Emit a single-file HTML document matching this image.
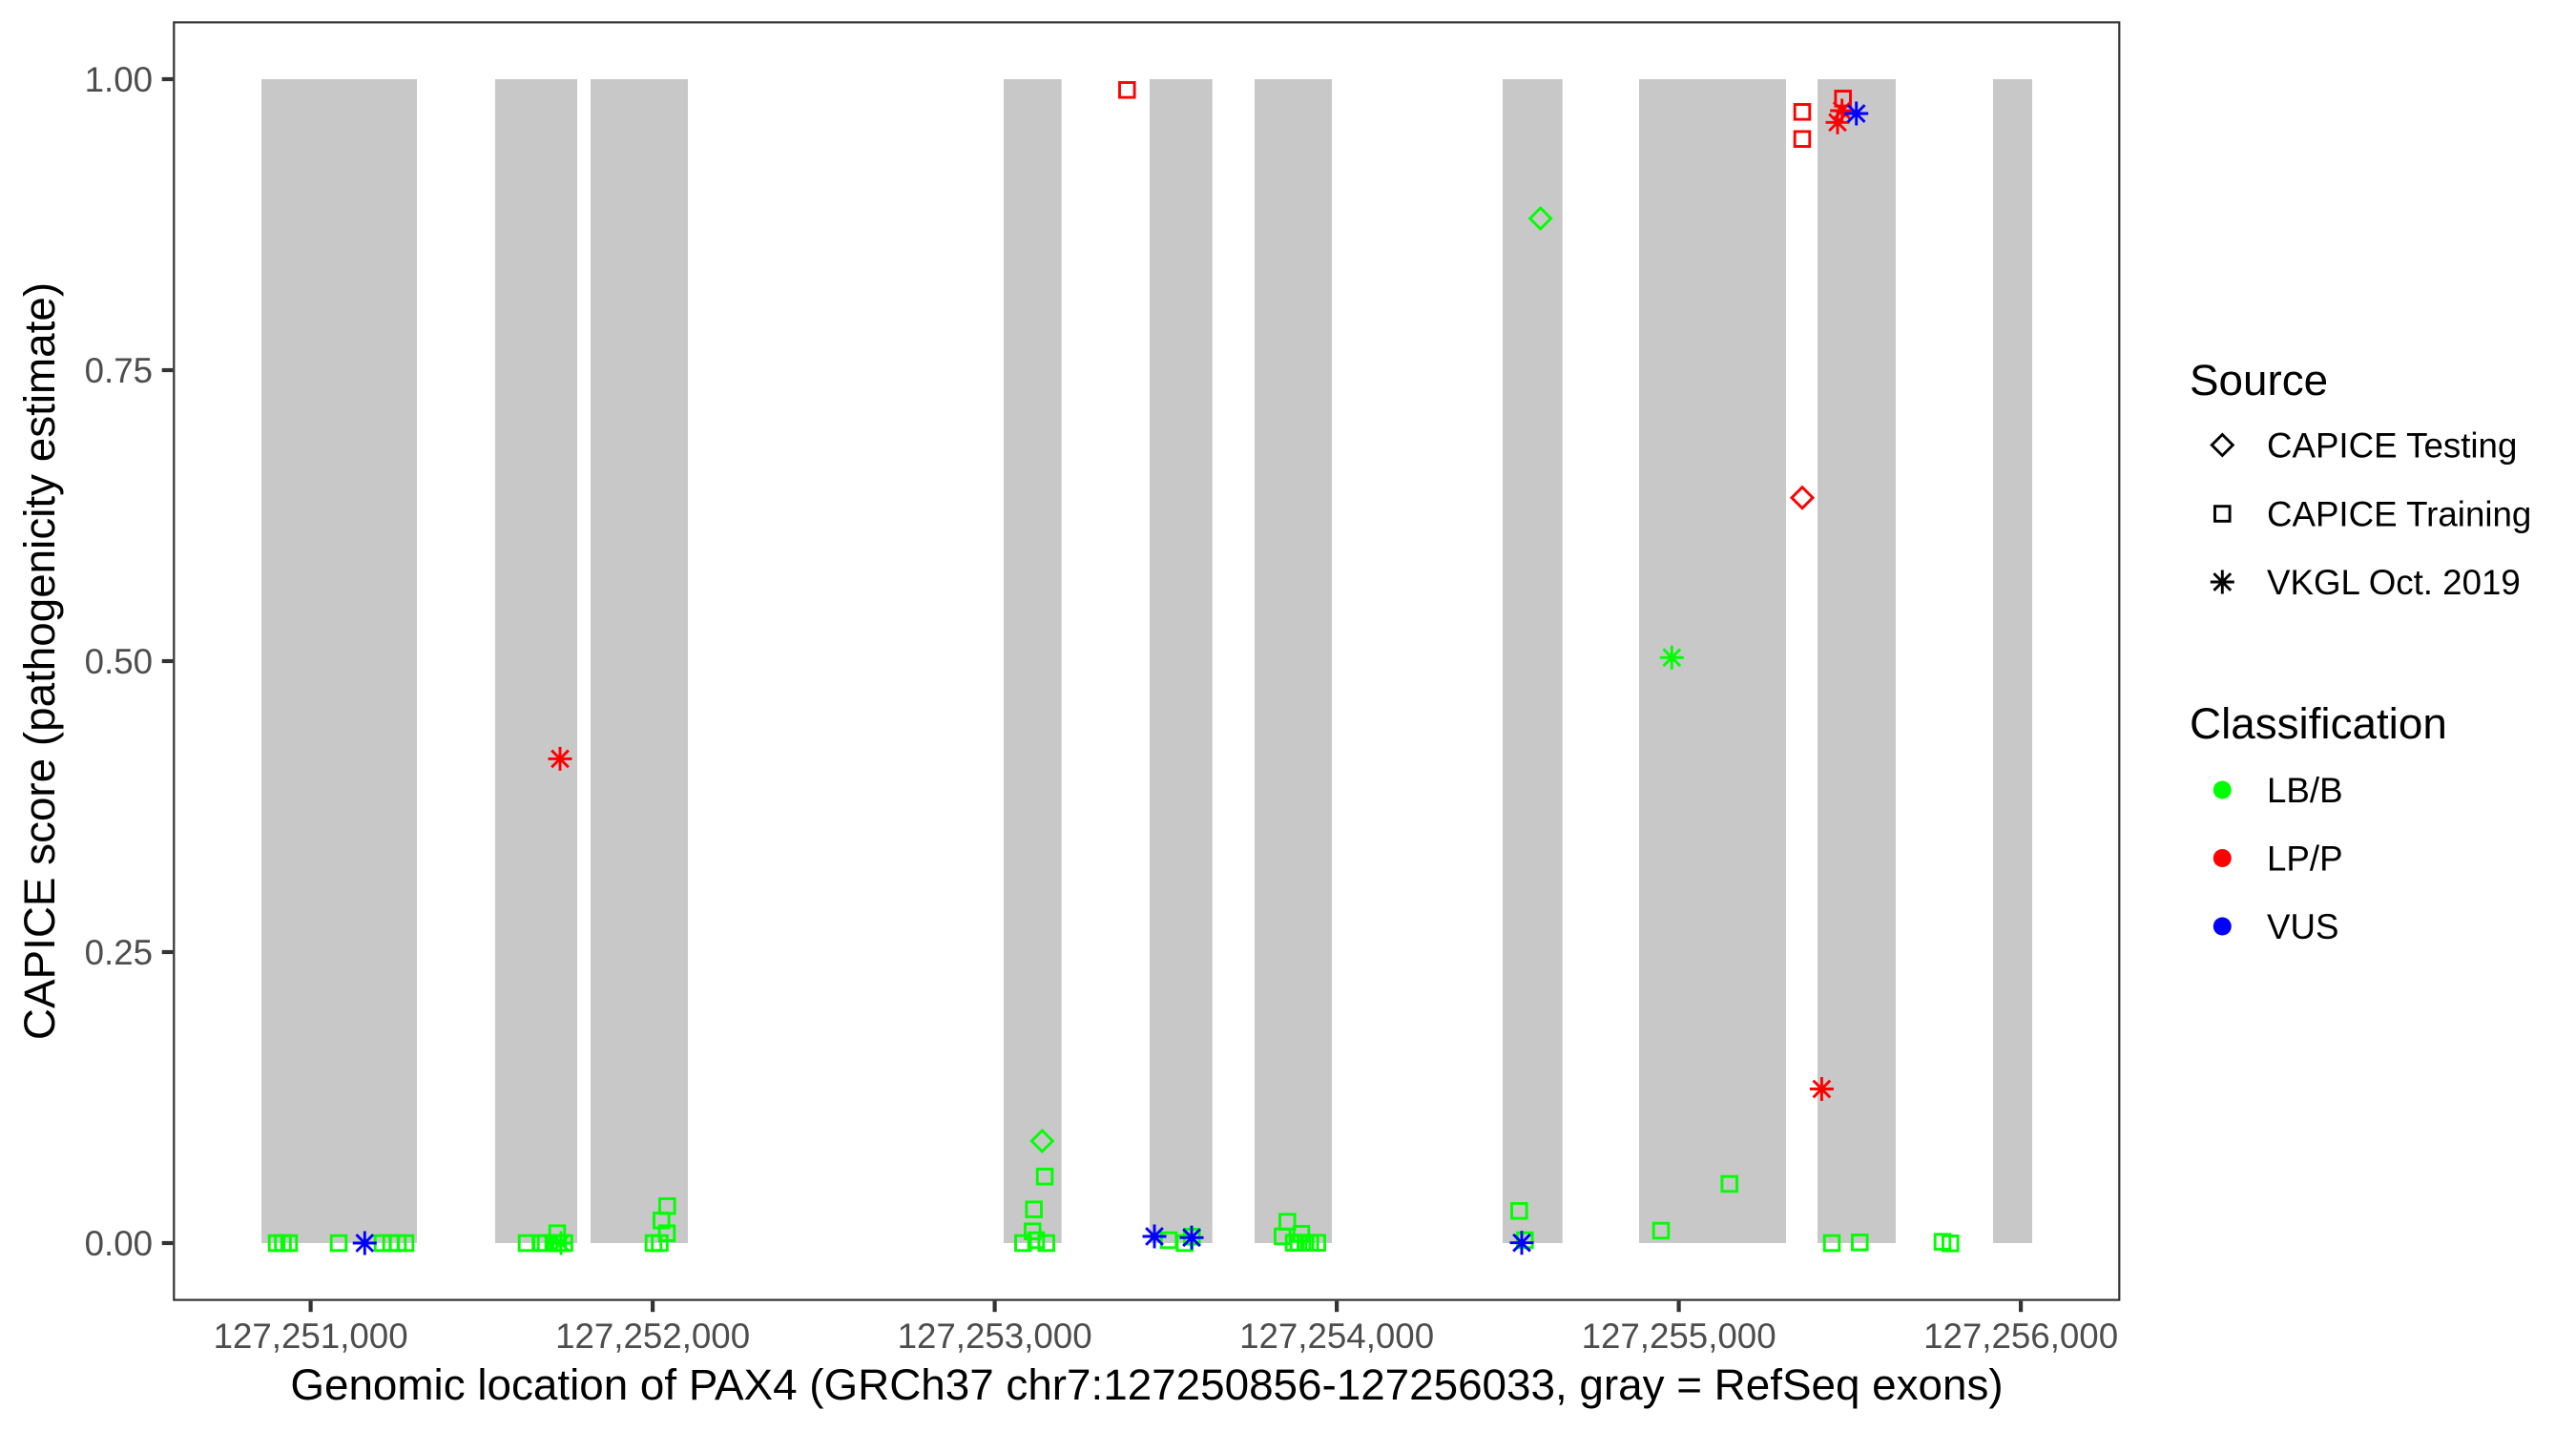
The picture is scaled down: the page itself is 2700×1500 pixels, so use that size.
<!DOCTYPE html>
<html><head><meta charset="utf-8">
<style>
html,body{margin:0;padding:0;background:#fff;}
svg{display:block;}
text{font-family:"Liberation Sans",Arial,sans-serif;}
</style></head>
<body>
<svg width="2700" height="1500" viewBox="0 0 2700 1500" xmlns="http://www.w3.org/2000/svg">
<rect x="0" y="0" width="2700" height="1500" fill="#fff"/>
<g fill="#c8c8c8">
<rect x="274" y="83" width="163" height="1220"/>
<rect x="519" y="83" width="86" height="1220"/>
<rect x="619" y="83" width="102" height="1220"/>
<rect x="1052" y="83" width="60.7" height="1220"/>
<rect x="1205" y="83" width="65.7" height="1220"/>
<rect x="1315" y="83" width="81" height="1220"/>
<rect x="1575" y="83" width="62.7" height="1220"/>
<rect x="1718" y="83" width="154" height="1220"/>
<rect x="1905" y="83" width="82" height="1220"/>
<rect x="2089" y="83" width="41" height="1220"/>
</g>
<g fill="none" stroke="#00ff00" stroke-width="2.9">
<rect x="282.2" y="1295.2" width="15.6" height="15.6"/>
<rect x="288.7" y="1295.2" width="15.6" height="15.6"/>
<rect x="295.2" y="1295.2" width="15.6" height="15.6"/>
<rect x="347.2" y="1295.2" width="15.6" height="15.6"/>
<rect x="393.2" y="1295.2" width="15.6" height="15.6"/>
<rect x="402.2" y="1295.2" width="15.6" height="15.6"/>
<rect x="409.2" y="1295.2" width="15.6" height="15.6"/>
<rect x="417.2" y="1295.2" width="15.6" height="15.6"/>
<rect x="544.2" y="1295.2" width="15.6" height="15.6"/>
<rect x="558.7" y="1295.2" width="15.6" height="15.6"/>
<rect x="564.2" y="1295.2" width="15.6" height="15.6"/>
<rect x="572.2" y="1295.2" width="15.6" height="15.6"/>
<rect x="577.2" y="1295.2" width="15.6" height="15.6"/>
<rect x="583.7" y="1295.2" width="15.6" height="15.6"/>
<rect x="576.2" y="1284.9" width="15.6" height="15.6"/>
<rect x="677.2" y="1295.2" width="15.6" height="15.6"/>
<rect x="683.7" y="1295.2" width="15.6" height="15.6"/>
<rect x="691.2" y="1284.9" width="15.6" height="15.6"/>
<rect x="685.5" y="1271.5" width="15.6" height="15.6"/>
<rect x="691.5" y="1256.5" width="15.6" height="15.6"/>
<rect x="1087.2" y="1225.5" width="15.6" height="15.6"/>
<rect x="1075.9" y="1259.9" width="15.6" height="15.6"/>
<rect x="1074.5" y="1282.9" width="15.6" height="15.6"/>
<rect x="1064.5" y="1295.2" width="15.6" height="15.6"/>
<rect x="1078.2" y="1292.2" width="15.6" height="15.6"/>
<rect x="1088.9" y="1295.2" width="15.6" height="15.6"/>
<rect x="1217.2" y="1292.2" width="15.6" height="15.6"/>
<rect x="1233.9" y="1295.2" width="15.6" height="15.6"/>
<rect x="1241.5" y="1288.5" width="15.6" height="15.6"/>
<rect x="1341.5" y="1272.9" width="15.6" height="15.6"/>
<rect x="1336.5" y="1288.2" width="15.6" height="15.6"/>
<rect x="1356.2" y="1285.5" width="15.6" height="15.6"/>
<rect x="1348.2" y="1294.9" width="15.6" height="15.6"/>
<rect x="1353.2" y="1294.7" width="15.6" height="15.6"/>
<rect x="1360.5" y="1294.9" width="15.6" height="15.6"/>
<rect x="1365.5" y="1294.9" width="15.6" height="15.6"/>
<rect x="1372.9" y="1294.9" width="15.6" height="15.6"/>
<rect x="1584.5" y="1261.5" width="15.6" height="15.6"/>
<rect x="1590.5" y="1292.2" width="15.6" height="15.6"/>
<rect x="1733.2" y="1282.2" width="15.6" height="15.6"/>
<rect x="1804.9" y="1233.2" width="15.6" height="15.6"/>
<rect x="1912.2" y="1295.2" width="15.6" height="15.6"/>
<rect x="1941.5" y="1294.5" width="15.6" height="15.6"/>
<rect x="2028.2" y="1293.9" width="15.6" height="15.6"/>
<rect x="2036.5" y="1295.5" width="15.6" height="15.6"/>
</g>
<g fill="none" stroke="#ff0000" stroke-width="2.9">
<rect x="1173.5" y="86.5" width="15.6" height="15.6"/>
<rect x="1881.2" y="109.5" width="15.6" height="15.6"/>
<rect x="1881.2" y="137.9" width="15.6" height="15.6"/>
<rect x="1923.9" y="95.5" width="15.6" height="15.6"/>
</g>
<g fill="none" stroke-width="2.9">
<path d="M1092.3 1185 L1103.3 1196 L1092.3 1207 L1081.3 1196 Z" stroke="#00ff00"/>
<path d="M1614.6 218 L1625.6 229 L1614.6 240 L1603.6 229 Z" stroke="#00ff00"/>
<path d="M1889 510.7 L1900 521.7 L1889 532.7 L1878 521.7 Z" stroke="#ff0000"/>
</g>
<g fill="none" stroke-width="2.9">
<path stroke="#00ff00" d="M575.5 1303H600.5M588 1290.5V1315.5M579.16 1294.16L596.84 1311.84M579.16 1311.84L596.84 1294.16"/>
<path stroke="#00ff00" d="M1739.8 689.3H1764.8M1752.3 676.8V701.8M1743.46 680.46L1761.14 698.14M1743.46 698.14L1761.14 680.46"/>
<path stroke="#ff0000" d="M574.5 795.4H599.5M587 782.9V807.9M578.16 786.56L595.84 804.24M578.16 804.24L595.84 786.56"/>
<path stroke="#ff0000" d="M1896.9 1141.5H1921.9M1909.4 1129V1154M1900.56 1132.66L1918.24 1150.34M1900.56 1150.34L1918.24 1132.66"/>
<path stroke="#ff0000" d="M1918.2 116H1943.2M1930.7 103.5V128.5M1921.86 107.16L1939.54 124.84M1921.86 124.84L1939.54 107.16"/>
<path stroke="#ff0000" d="M1913.5 128.3H1938.5M1926 115.8V140.8M1917.16 119.46L1934.84 137.14M1917.16 137.14L1934.84 119.46"/>
<path stroke="#0000ff" d="M369.8 1303H394.8M382.3 1290.5V1315.5M373.46 1294.16L391.14 1311.84M373.46 1311.84L391.14 1294.16"/>
<path stroke="#0000ff" d="M1197.5 1296H1222.5M1210 1283.5V1308.5M1201.16 1287.16L1218.84 1304.84M1201.16 1304.84L1218.84 1287.16"/>
<path stroke="#0000ff" d="M1236.5 1297.3H1261.5M1249 1284.8V1309.8M1240.16 1288.46L1257.84 1306.14M1240.16 1306.14L1257.84 1288.46"/>
<path stroke="#0000ff" d="M1582.5 1302.7H1607.5M1595 1290.2V1315.2M1586.16 1293.86L1603.84 1311.54M1586.16 1311.54L1603.84 1293.86"/>
<path stroke="#0000ff" d="M1933.2 119H1958.2M1945.7 106.5V131.5M1936.86 110.16L1954.54 127.84M1936.86 127.84L1954.54 110.16"/>
</g>
<rect x="182.3" y="23.4" width="2039" height="1339.2" fill="none" stroke="#333333" stroke-width="2.2"/>
<g stroke="#333333" stroke-width="4.2">
<line x1="169.7" y1="83" x2="181.2" y2="83"/>
<line x1="169.7" y1="388" x2="181.2" y2="388"/>
<line x1="169.7" y1="693" x2="181.2" y2="693"/>
<line x1="169.7" y1="998" x2="181.2" y2="998"/>
<line x1="169.7" y1="1303" x2="181.2" y2="1303"/>
<line x1="325.6" y1="1363.7" x2="325.6" y2="1375.2"/>
<line x1="684.1" y1="1363.7" x2="684.1" y2="1375.2"/>
<line x1="1042.6" y1="1363.7" x2="1042.6" y2="1375.2"/>
<line x1="1401.1" y1="1363.7" x2="1401.1" y2="1375.2"/>
<line x1="1759.6" y1="1363.7" x2="1759.6" y2="1375.2"/>
<line x1="2118.1" y1="1363.7" x2="2118.1" y2="1375.2"/>
</g>
<g fill="#4d4d4d" font-size="36.7" text-anchor="end">
<text x="160" y="96">1.00</text>
<text x="160" y="401">0.75</text>
<text x="160" y="706">0.50</text>
<text x="160" y="1011">0.25</text>
<text x="160" y="1316">0.00</text>
</g>
<g fill="#4d4d4d" font-size="36.7" text-anchor="middle">
<text x="325.6" y="1413">127,251,000</text>
<text x="684.1" y="1413">127,252,000</text>
<text x="1042.6" y="1413">127,253,000</text>
<text x="1401.1" y="1413">127,254,000</text>
<text x="1759.6" y="1413">127,255,000</text>
<text x="2118.1" y="1413">127,256,000</text>
</g>
<text x="1202" y="1467" font-size="45.8" text-anchor="middle" fill="#000">Genomic location of PAX4 (GRCh37 chr7:127250856-127256033, gray = RefSeq exons)</text>
<text transform="translate(57,693) rotate(-90)" x="0" y="0" font-size="45.8" text-anchor="middle" fill="#000">CAPICE score (pathogenicity estimate)</text>
<g fill="#000">
<text x="2295" y="414" font-size="45.8">Source</text>
<text x="2376" y="479.5" font-size="36.7">CAPICE Testing</text>
<text x="2376" y="551.5" font-size="36.7">CAPICE Training</text>
<text x="2376" y="623" font-size="36.7">VKGL Oct. 2019</text>
<text x="2295" y="774" font-size="45.8">Classification</text>
<text x="2376" y="841" font-size="36.7">LB/B</text>
<text x="2376" y="912.5" font-size="36.7">LP/P</text>
<text x="2376" y="984" font-size="36.7">VUS</text>
</g>
<g fill="none" stroke="#000" stroke-width="2.9">
<path d="M2329.3 455.5 L2340.3 466.5 L2329.3 477.5 L2318.3 466.5 Z"/>
<rect x="2321.5" y="530.7" width="15.6" height="15.6"/>
<path d="M2316.8 610H2341.8M2329.3 597.5V622.5M2320.46 601.16L2338.14 618.84M2320.46 618.84L2338.14 601.16"/>
</g>
<circle cx="2329.3" cy="828" r="9.5" fill="#00ff00"/>
<circle cx="2329.3" cy="899.5" r="9.5" fill="#ff0000"/>
<circle cx="2329.3" cy="971" r="9.5" fill="#0000ff"/>
</svg>
</body></html>
